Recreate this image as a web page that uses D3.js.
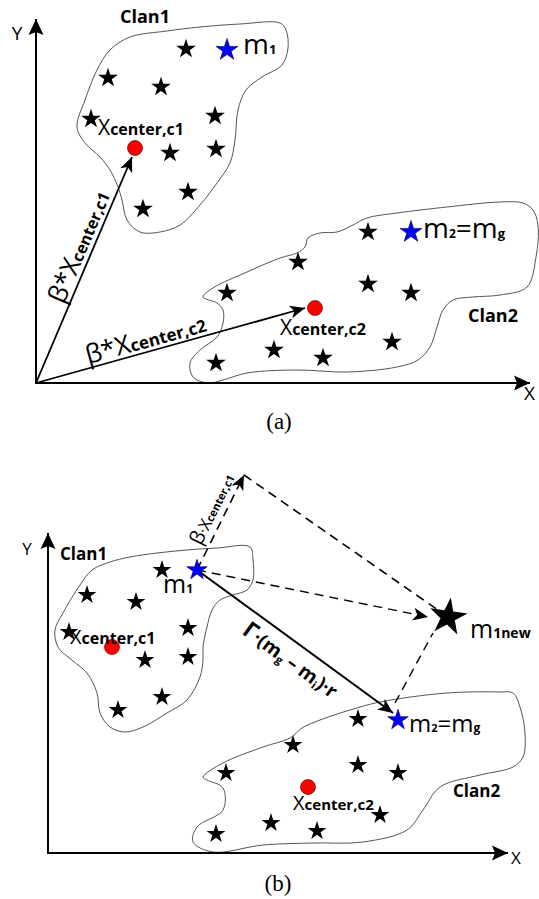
<!DOCTYPE html>
<html><head><meta charset="utf-8">
<script src="https://cdn.jsdelivr.net/npm/d3@7"></script>
<style>body{margin:0;background:#fff}svg{display:block}text{font-family:'Open Sans',sans-serif;fill:#000}</style>
</head><body><svg id="c" width="539" height="899"></svg>
<script>
// ---------- Panel (a) values: units measured from the axis origin (x right, y up) ----------
const aAxisMax = [494, 364];
const aClan1Stars = [[150,334],[72,305],[125,296],[55,264],[179,267],[134,230],[180,234],[152,191],[107,174]];
const aM1 = [191,333];
const aCenter1 = [99,235];
const aClan2Stars = [[332,151],[262,121],[191,90],[332,99],[375,90],[356,41],[238,33],[287,25],[180,20]];
const aM2 = [375,151];
const aCenter2 = [279,75];
const aArrowTip1 = [96,226];
const aArrowTip2 = [269,75];
const aClan1Outline = [[61,313],[74,333],[94,346],[131,352],[164,356],[204,359],[244,360],[250,353],[252,335],[246,318],[226,306],[210,293],[202,273],[199,243],[194,220],[181,200],[164,178],[144,158],[124,151],[104,151],[91,163],[86,183],[82,196],[74,213],[64,226],[49,240],[41,256],[49,283]];
const aClan2Outline = [[167,86],[177,95],[211,111],[244,125],[261,130],[269,136],[272,145],[284,150],[301,151],[317,158],[331,165],[361,170],[411,176],[464,181],[487,180],[497,173],[502,158],[500,126],[491,96],[464,88],[437,86],[417,83],[407,73],[401,56],[394,36],[382,23],[361,16],[311,11],[261,13],[211,10],[187,3],[172,0],[157,6],[154,20],[164,33],[181,46],[187,60],[187,73],[181,80]];

// ---------- Panel (b) values ----------
const bAxisMax = [460, 320];
const bClan1Stars = [[114,283],[39,258],[88,251],[21,221],[140,225],[97,193],[140,196],[114,156],[70,143]];
const bM1 = [149,283];
const bCenter1 = [64,206];
const bClan2Stars = [[310,134],[245,108],[178,80],[310,88],[350,80],[332,38],[223,30],[269,22],[168,19]];
const bM2 = [350,133];
const bCenter2 = [260,66];
const bM1new = [400,236];
const bBetaTip = [196,378];
const bGammaTip = [345,140];
const bClan1Outline = [[62,291],[82,296],[109,300],[139,303],[169,305],[202,306],[205,293],[205,273],[199,263],[185,258],[172,253],[164,243],[159,226],[155,206],[155,193],[152,176],[139,153],[119,140],[95,126],[77,121],[62,126],[52,140],[49,160],[39,180],[25,192],[10,206],[7,223],[15,240],[32,268],[44,283]];
const bClan2Outline = [[155,76],[175,90],[215,106],[242,115],[254,125],[272,133],[302,143],[332,151],[399,160],[452,161],[465,160],[472,146],[477,120],[475,96],[465,86],[432,78],[392,66],[375,43],[359,23],[315,11],[265,10],[215,8],[165,1],[145,11],[149,26],[175,43],[175,65],[159,73]];

// ---------- text labels ----------
const captionLabels = ["(a)", "(b)"];
const clanLabels = ["Clan1", "Clan2"];

const svg = d3.select('#c');
const defs = svg.append('defs');
function marker(id, len, half, notch){
  defs.append('marker').attr('id',id).attr('markerUnits','userSpaceOnUse')
    .attr('viewBox',`${-len-1} ${-half-1} ${len+2} ${2*half+2}`)
    .attr('markerWidth',len+2).attr('markerHeight',2*half+2)
    .attr('refX',0).attr('refY',0).attr('orient','auto')
    .append('path').attr('d',`M0,0L${-len},${-half}L${-len+notch},0L${-len},${half}Z`).attr('fill','#000');
}
marker('axisHead',16,7.5,3);
marker('head',15,6.5,4);

function makeScales(ox, oy){
  return [d3.scaleLinear().domain([0,100]).range([ox, ox+100]),
          d3.scaleLinear().domain([0,100]).range([oy, oy-100])];
}
function addText(g, x, y, parts, attrs){
  const t = g.append('text').attr('x',x).attr('y',y);
  if (attrs) Object.entries(attrs).forEach(([k,v])=>t.attr(k,v));
  let shift = 0;
  parts.forEach(p=>{
    const s = p[3]||0;
    const ts = t.append('tspan').text(p[0]).attr('font-size',p[1]).attr('font-weight',p[2]||'normal');
    if (s!==shift){ ts.attr('dy', s-shift); shift = s; }
  });
  return t;
}
function alongLabel(g, sx, sy, p0, p1, t, baseY, parts){
  const x0=sx(p0[0]), y0=sy(p0[1]), x1=sx(p1[0]), y1=sy(p1[1]);
  const ang = Math.atan2(y1-y0, x1-x0)*180/Math.PI;
  const px = x0+(x1-x0)*t, py = y0+(y1-y0)*t;
  const gg = g.append('g').attr('transform',`translate(${px},${py}) rotate(${ang})`);
  addText(gg, 0, baseY, parts, {'text-anchor':'middle'});
}
const star = s => d3.symbol(d3.symbolStar, s)();

function drawPanel(P){
  const [sx, sy] = makeScales(P.ox, P.oy);
  const g = svg.append('g');
  const blob = d3.line().x(d=>sx(d[0])).y(d=>sy(d[1])).curve(d3.curveCatmullRomClosed.alpha(0.5));
  g.selectAll('path.blob').data(P.outlines).join('path').attr('class','blob')
    .attr('d',blob).attr('fill','none').attr('stroke','#555').attr('stroke-width',1);
  // axes
  g.append('line').attr('x1',sx(0)).attr('y1',sy(0)).attr('x2',sx(0)).attr('y2',sy(P.axisMax[1]))
    .attr('stroke','#000').attr('stroke-width',2).attr('marker-end','url(#axisHead)');
  g.append('line').attr('x1',sx(0)-1).attr('y1',sy(0)).attr('x2',sx(P.axisMax[0])).attr('y2',sy(0))
    .attr('stroke','#000').attr('stroke-width',2).attr('marker-end','url(#axisHead)');
  addText(g, sx(0)+P.yLab[0], sy(P.axisMax[1])+P.yLab[1], [['Y',P.axisFont]], {'text-anchor':'middle'});
  addText(g, sx(P.axisMax[0])+P.xLab[0], sy(0)+P.xLab[1], [['X',P.axisFont]]);
  // arrows
  P.arrows.forEach(a=>{
    g.append('line').attr('x1',sx(a.from[0])).attr('y1',sy(a.from[1])).attr('x2',sx(a.to[0])).attr('y2',sy(a.to[1]))
      .attr('stroke','#000').attr('stroke-width',a.w||1.8)
      .attr('stroke-dasharray',a.dash||null)
      .attr('marker-end',a.head?'url(#head)':null);
  });
  P.along.forEach(l=>alongLabel(g, sx, sy, l.p0, l.p1, l.t, l.base, l.parts));
  // stars
  g.selectAll('path.bs').data(P.stars).join('path').attr('class','bs')
    .attr('transform',d=>`translate(${sx(d[0])},${sy(d[1])})`).attr('d',star(P.starSize)).attr('fill','#000');
  g.selectAll('path.blue').data(P.blue).join('path').attr('class','blue')
    .attr('transform',d=>`translate(${sx(d[0])},${sy(d[1])})`).attr('d',star(P.blueSize))
    .attr('fill','#0000ff').attr('stroke','#000033').attr('stroke-width',0.6);
  if (P.big) g.append('path').attr('transform',`translate(${sx(P.big[0])},${sy(P.big[1])}) rotate(8)`)
    .attr('d',star(P.bigSize)).attr('fill','#000');
  g.selectAll('circle').data(P.centers).join('circle').attr('cx',d=>sx(d[0])).attr('cy',d=>sy(d[1]))
    .attr('r',7.5).attr('fill','#ff0000').attr('stroke','#600').attr('stroke-width',0.7);
  // point labels
  P.labels.forEach(l=>addText(g, sx(l.at[0])+l.dx, sy(l.at[1])+l.dy, l.parts));
  P.clans.forEach(c=>addText(g, sx(c.at[0]), sy(c.at[1]), [[c.text, c.size, 'bold']]));
  addText(g, P.cap[0], P.cap[1], [[P.capText, 23]], {'text-anchor':'middle'})
    .style('font-family',"'Liberation Serif','Times New Roman',serif");
}

const xc = (sub, bsz, ssz)=>[['X',bsz],['center,'+sub,ssz,'bold']];

drawPanel({
  ox:36, oy:383, axisMax:aAxisMax, axisFont:19, yLab:[-19,21], xLab:[-6,17],
  outlines:[aClan1Outline, aClan2Outline],
  stars:aClan1Stars.concat(aClan2Stars), starSize:120, blue:[aM1, aM2], blueSize:150,
  centers:[aCenter1, aCenter2],
  arrows:[{from:[0,0], to:aArrowTip1, head:true, w:1.8},{from:[0,0], to:aArrowTip2, head:true, w:1.8}],
  along:[
    {p0:[0,0], p1:aArrowTip1, t:0.58, base:-5, parts:[['β*',26],['X',26],['center,c1',16,'bold']]},
    {p0:[0,0], p1:aArrowTip2, t:0.42, base:-4, parts:[['β*',26],['X',26],['center,c2',17,'bold']]}
  ],
  labels:[
    {at:aM1, dx:16, dy:4, parts:[['m',28],['1',13,'bold']]},
    {at:aM2, dx:12, dy:6, parts:[['m',28],['2',12,'bold'],['=',28],['m',28],['g',13,'bold']]},
    {at:aCenter1, dx:-37, dy:-13, parts:xc('c1',21,16)},
    {at:aCenter2, dx:-35, dy:27, parts:xc('c2',21,16)}
  ],
  clans:[{at:[84,360], text:clanLabels[0], size:18},{at:[432,61], text:clanLabels[1], size:18}],
  cap:[279,429], capText:captionLabels[0]
});

drawPanel({
  ox:48, oy:853, axisMax:bAxisMax, axisFont:17, yLab:[-21,22], xLab:[3,11],
  outlines:[bClan1Outline, bClan2Outline],
  stars:bClan1Stars.concat(bClan2Stars), starSize:110, blue:[bM1, bM2], blueSize:130,
  big:bM1new, bigSize:440,
  centers:[bCenter1, bCenter2],
  arrows:[
    {from:bM1, to:bBetaTip, head:true, dash:'9,6', w:1.6},
    {from:bBetaTip, to:bM1new, head:false, dash:'9,6', w:1.6},
    {from:bM1, to:[380,236], head:true, dash:'9,6', w:1.4},
    {from:[347,150], to:[385,220], head:false, dash:'9,6', w:1.4},
    {from:bM1, to:bGammaTip, head:true, w:2}
  ],
  along:[
    {p0:bM1, p1:bBetaTip, t:0.58, base:-7, parts:[['β',20],['·',15],['X',17],['center,c1',11,'bold']]},
    {p0:bM1, p1:bGammaTip, t:0.53, base:25, parts:[['Γ',23,'bold'],['·(m',19,'bold'],['g',11,'bold',3],[' – m',19,'bold'],['i',11,'bold',3],[')·r',19,'bold']]}
  ],
  labels:[
    {at:bM1, dx:-34, dy:23, parts:[['m',25],['1',12,'bold']]},
    {at:bM2, dx:11, dy:12, parts:[['m',24],['2',11,'bold'],['=',24],['m',24],['g',12,'bold']]},
    {at:bCenter1, dx:-42, dy:-3, parts:xc('c1',20,16)},
    {at:bCenter2, dx:-15, dy:23, parts:xc('c2',20,15)},
    {at:bM1new, dx:22, dy:21, parts:[['m',25],['1new',14,'bold']]}
  ],
  clans:[{at:[12,293], text:clanLabels[0], size:17},{at:[405,56], text:clanLabels[1], size:17}],
  cap:[278,891], capText:captionLabels[1]
});
</script></body></html>
